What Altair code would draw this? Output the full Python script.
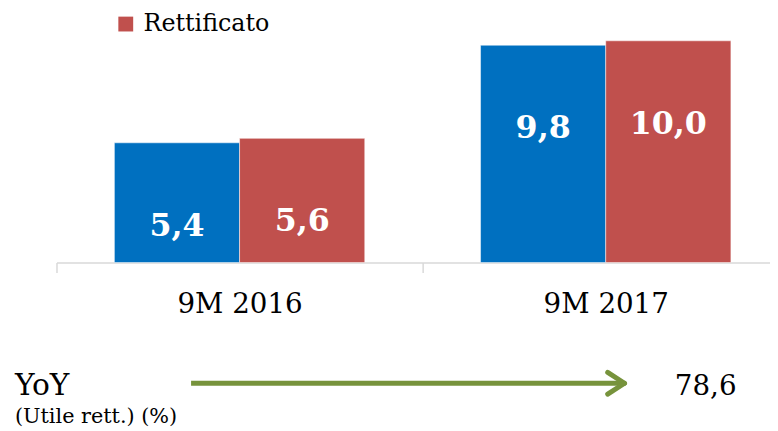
import altair as alt
import pandas as pd

# ---- data ----
periods = ["9M 2016", "9M 2017"]
series = ["Contabile", "Rettificato"]
values_contabile = [5.4, 9.8]
values_rettificato = [5.6, 10.0]
labels_contabile = ["5,4", "9,8"]
labels_rettificato = ["5,6", "10,0"]
colors = ["#0070C0", "#C0504D"]
yoy_title = ["YoY"]
yoy_subtitle = ["(Utile rett.) (%)"]
yoy_value = ["78,6"]

rows = []
for i, p in enumerate(periods):
    rows.append(dict(period=p, series=series[0], value=values_contabile[i], label=labels_contabile[i]))
    rows.append(dict(period=p, series=series[1], value=values_rettificato[i], label=labels_rettificato[i]))
df = pd.DataFrame(rows)

FONT = "DejaVu Serif"
GREEN = "#77933C"
W, H = 721, 255

x_enc = alt.X(
    "period:N", sort=periods,
    scale=alt.Scale(range=[0, 740], paddingInner=0, paddingOuter=0),
    axis=alt.Axis(title=None, labelAngle=0, tickBand="extent", domainColor="#D9D9D9",
                  tickColor="#D9D9D9", tickSize=10, domainWidth=1.5, tickWidth=1.5,
                  labelFontSize=28, labelFont=FONT, labelColor="black", labelPadding=18,
                  grid=False),
)
xoff = alt.XOffset("series:N", sort=series,
                   scale=alt.Scale(paddingInner=0, paddingOuter=0.4625))
y_enc = alt.Y("value:Q", scale=alt.Scale(domain=[0, 11.38], nice=False), axis=None)

bars = alt.Chart(df).mark_bar(stroke="white", strokeWidth=0.5).encode(
    x=x_enc, xOffset=xoff, y=y_enc,
    color=alt.Color("series:N", sort=series,
                    scale=alt.Scale(domain=series, range=colors),
                    legend=alt.Legend(title=None, values=["Rettificato"], orient="none",
                                      legendX=58, legendY=2, symbolType="square",
                                      symbolSize=225, symbolStrokeWidth=0, labelFont=FONT,
                                      labelFontSize=24, labelColor="black", labelOffset=6,
                                      padding=0)),
)

labels = alt.Chart(df).mark_text(color="white", font=FONT, fontWeight="bold", fontSize=32,
                                 baseline="middle", dy=84).encode(
    x=x_enc, xOffset=xoff, y=y_enc, text="label:N"
)

one = pd.DataFrame({"t": yoy_title, "s": yoy_subtitle, "v": yoy_value})

t_yoy = alt.Chart(one).mark_text(font=FONT, fontSize=30, align="left", baseline="alphabetic",
                                 color="black").encode(
    x=alt.value(-42), y=alt.value(389), text="t:N")
t_sub = alt.Chart(one).mark_text(font=FONT, fontSize=21, align="left", baseline="alphabetic",
                                 color="black").encode(
    x=alt.value(-42), y=alt.value(417), text="s:N")
t_val = alt.Chart(one).mark_text(font=FONT, fontSize=28, align="center", baseline="alphabetic",
                                 color="black").encode(
    x=alt.value(656), y=alt.value(389), text="v:N")

arrow_line = alt.Chart(one).mark_rule(color=GREEN, strokeWidth=5).encode(
    x=alt.value(136), x2=alt.value(572), y=alt.value(377), y2=alt.value(377))
arm1 = alt.Chart(one).mark_rule(color=GREEN, strokeWidth=5, strokeCap="round").encode(
    x=alt.value(557), x2=alt.value(574), y=alt.value(366), y2=alt.value(377))
arm2 = alt.Chart(one).mark_rule(color=GREEN, strokeWidth=5, strokeCap="round").encode(
    x=alt.value(557), x2=alt.value(574), y=alt.value(388), y2=alt.value(377))

chart = alt.layer(bars, labels, t_yoy, t_sub, t_val, arrow_line, arm1, arm2).properties(
    width=W, height=H,
    autosize=alt.AutoSizeParams(type="none"),
    padding={"left": 49, "top": 0, "right": 0, "bottom": 168},
).configure(background="white").configure_view(stroke=None)

chart.save("out.html", embed_options={"renderer": "svg", "actions": False})
